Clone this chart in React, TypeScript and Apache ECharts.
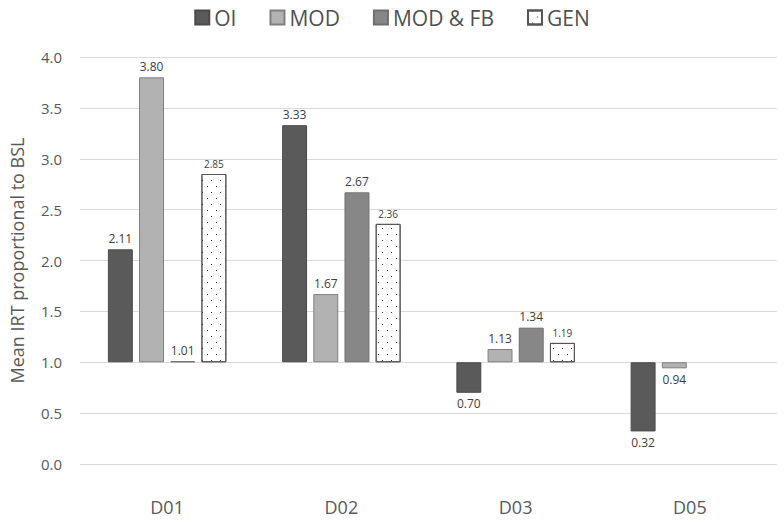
import React, { useEffect, useRef } from "react";
import * as echarts from "echarts";

const categories = ["D01", "D02", "D03", "D05"];
const seriesNames = ["OI", "MOD", "MOD & FB", "GEN"];
const oiValues: (number | null)[] = [2.11, 3.33, 0.70, 0.32];
const modValues: (number | null)[] = [3.80, 1.67, 1.13, 0.94];
const modFbValues: (number | null)[] = [1.01, 2.67, 1.34, null];
const genValues: (number | null)[] = [2.85, 2.36, 1.19, null];
const yTicks = [0, 0.5, 1, 1.5, 2, 2.5, 3, 3.5, 4];
const BASELINE = 1.0;

const allValues = [oiValues, modValues, modFbValues, genValues];

const styles = [
  { color: "#5a5a5a", borderColor: "#4a4a4a", borderWidth: 1 },
  { color: "#b2b2b2", borderColor: "#7f7f7f", borderWidth: 1 },
  { color: "#878787", borderColor: "#6f6f6f", borderWidth: 1 },
  {
    color: "#ffffff",
    borderColor: "#555555",
    borderWidth: 1,
    decal: {
      symbol: "rect",
      symbolSize: 1,
      color: "#333333",
      backgroundColor: "#ffffff",
      dashArrayX: [[1, 8], [0, 4, 1, 4]],
      dashArrayY: [1, 5],
      rotation: 0,
    },
  },
];

export default function App() {
  const ref = useRef<HTMLDivElement>(null);
  useEffect(() => {
    if (!ref.current) return;
    const chart = echarts.init(ref.current, null, { renderer: "svg" });
    const series: any[] = [];
    allValues.forEach((vals, si) => {
      const stack = "s" + si;
      series.push({
        name: "_base_" + si,
        type: "bar",
        stack,
        silent: true,
        barGap: "25%",
        barCategoryGap: "32%",
        itemStyle: { color: "transparent", borderWidth: 0 },
        emphasis: { disabled: true },
        data: vals.map((v) => (v == null ? "-" : Math.min(v, BASELINE))),
      });
      series.push({
        name: seriesNames[si],
        type: "bar",
        stack,
        barGap: "25%",
        barCategoryGap: "32%",
        itemStyle: styles[si],
        label: {
          show: true,
          color: "#404040",
          fontSize: si === 3 ? 10 : 12,
          fontFamily: "Open Sans",
          distance: 5,
          formatter: (p: any) => {
            const v = vals[p.dataIndex];
            return v == null ? "" : v.toFixed(2);
          },
        },
        data: vals.map((v) =>
          v == null
            ? "-"
            : {
                value: Math.abs(v - BASELINE),
                label: { position: v >= BASELINE ? "top" : "bottom" },
              }
        ),
      });
    });

    chart.setOption({
      animation: false,
      aria: { enabled: false },
      textStyle: { fontFamily: "Open Sans" },
      legend: {
        data: seriesNames,
        top: 2,
        left: "center",
        icon: "rect",
        itemWidth: 14,
        itemHeight: 14,
        itemGap: 33,
        textStyle: { fontSize: 21, color: "#505050", fontFamily: "Open Sans" },
      },
      grid: { left: 80, right: 7, top: 57, bottom: 57, containLabel: false },
      xAxis: {
        type: "category",
        data: categories,
        axisLine: { show: false },
        axisTick: { show: false },
        axisLabel: { margin: 34, fontSize: 18, color: "#595959", fontFamily: "Open Sans" },
      },
      yAxis: {
        type: "value",
        min: yTicks[0],
        max: yTicks[yTicks.length - 1],
        interval: 0.5,
        name: "Mean IRT proportional to BSL",
        nameLocation: "middle",
        nameGap: 54,
        nameTextStyle: { fontSize: 18, color: "#595959", fontFamily: "Open Sans" },
        axisLine: { show: false },
        axisTick: { show: false },
        axisLabel: {
          margin: 18,
          fontSize: 15,
          color: "#595959",
          fontFamily: "Open Sans",
          formatter: (v: number) => v.toFixed(1),
        },
        splitLine: { lineStyle: { color: "#d9d9d9", width: 1 } },
      },
      series,
    });
    return () => chart.dispose();
  }, []);
  return (
    <div
      ref={ref}
      style={{ position: "fixed", left: 0, top: 0, width: 784, height: 521, background: "#fff" }}
    />
  );
}
